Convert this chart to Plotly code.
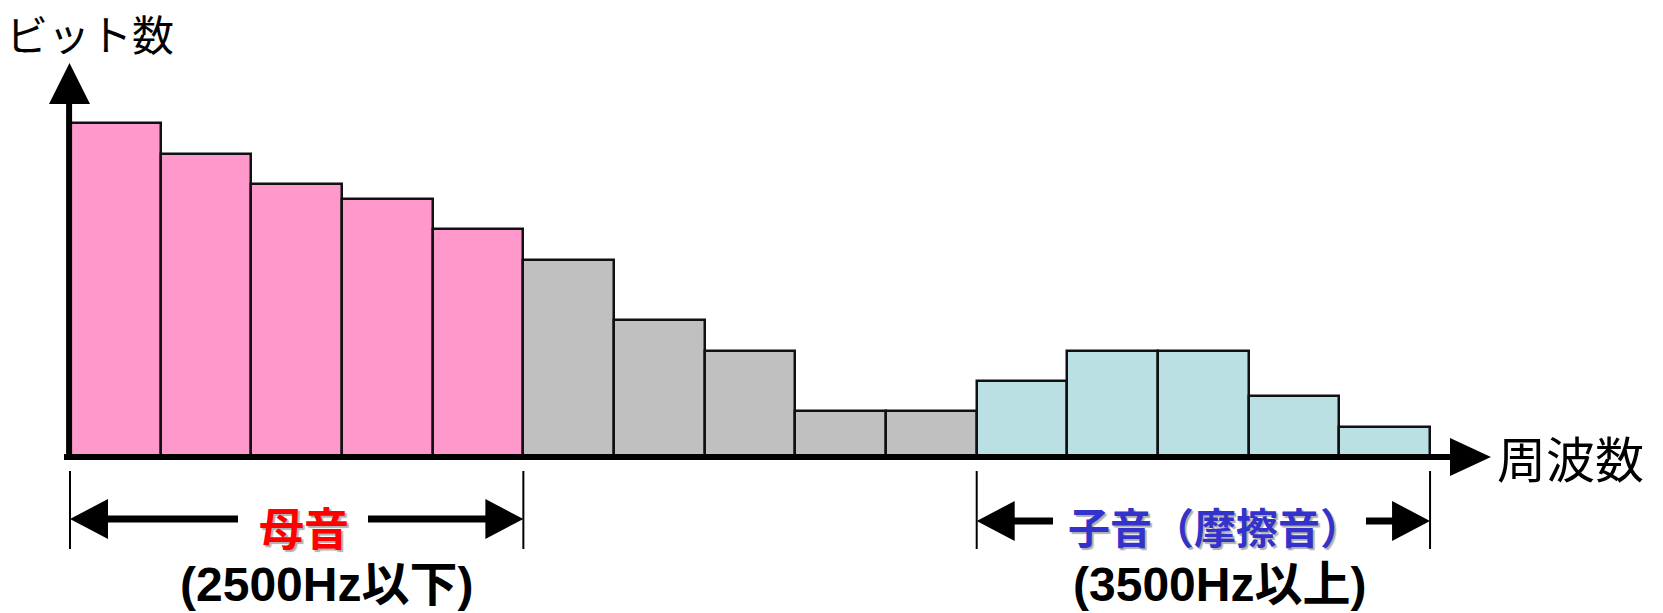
import plotly.graph_objects as go

# ---------------- data ----------------
bands = list(range(15))                      # frequency bands (left -> right)
bits = [22, 20, 18, 17, 15, 13, 9, 7, 3, 3, 5, 7, 7, 4, 2]   # bit allocation per band
vowel_idx = [0, 1, 2, 3, 4]                  # 母音 (<=2500Hz)
middle_idx = [5, 6, 7, 8, 9]
consonant_idx = [10, 11, 12, 13, 14]         # 子音 (>=3500Hz)

y_title = "ビット数"
x_title = "周波数"
vowel_label = "母音"
vowel_range = "(2500Hz以下)"
consonant_label = "子音（摩擦音）"
consonant_range = "(3500Hz以上)"

# ---------------- layout geometry ----------------
W, H = 1663, 613
PXX = 90.67          # px per band
BAR0_LEFT_PX = 70
PXY = 15.17          # px per bit
BASE_PX = 457

x0 = -0.5 - BAR0_LEFT_PX / PXX
x1 = x0 + W / PXX
y0 = -(H - BASE_PX) / PXY
y1 = BASE_PX / PXY


def X(px):
    return x0 + px / PXX


def Y(py):
    return (BASE_PX - py) / PXY


fig = go.Figure()
for idx, col in [(vowel_idx, "#FF99CC"), (middle_idx, "#C0C0C0"), (consonant_idx, "#BBE0E3")]:
    fig.add_trace(go.Bar(
        x=[bands[i] for i in idx], y=[bits[i] for i in idx], width=1,
        marker=dict(color=col, line=dict(color="#111111", width=2.5)),
        showlegend=False, hoverinfo="skip"))

shapes = []
# axes
left_edge = bands[0] - 0.5
right_edge = bands[-1] + 0.5
shapes.append(dict(type="line", x0=left_edge - 0.01, x1=left_edge - 0.01, y0=Y(460), y1=Y(100),
                   line=dict(color="black", width=6)))
shapes.append(dict(type="path",
                   path=f"M {X(49)},{Y(104)} L {X(90)},{Y(104)} L {X(69.5)},{Y(63)} Z",
                   fillcolor="black", line=dict(width=0)))
shapes.append(dict(type="line", x0=X(64), x1=X(1453), y0=0, y1=0,
                   line=dict(color="black", width=6)))
shapes.append(dict(type="path",
                   path=f"M {X(1450)},{Y(438)} L {X(1450)},{Y(476)} L {X(1491)},{Y(457)} Z",
                   fillcolor="black", line=dict(width=0)))


def span(a, b, gap_l, gap_r, ay):
    out = []
    for xe in (a, b):
        out.append(dict(type="line", x0=xe, x1=xe, y0=Y(471), y1=Y(549),
                        line=dict(color="black", width=2)))
    head = 38 / PXX
    hh = 20 / PXY
    out.append(dict(type="path",
                    path=f"M {a},{Y(ay)} L {a + head},{Y(ay) + hh} L {a + head},{Y(ay) - hh} Z",
                    fillcolor="black", line=dict(width=0)))
    out.append(dict(type="path",
                    path=f"M {b},{Y(ay)} L {b - head},{Y(ay) + hh} L {b - head},{Y(ay) - hh} Z",
                    fillcolor="black", line=dict(width=0)))
    out.append(dict(type="line", x0=a + head - 0.05, x1=X(gap_l), y0=Y(ay), y1=Y(ay),
                    line=dict(color="black", width=7)))
    out.append(dict(type="line", x0=X(gap_r), x1=b - head + 0.05, y0=Y(ay), y1=Y(ay),
                    line=dict(color="black", width=7)))
    return out


shapes += span(bands[vowel_idx[0]] - 0.5, bands[vowel_idx[-1]] + 0.5, 238, 368, 519)
shapes += span(bands[consonant_idx[0]] - 0.5, bands[consonant_idx[-1]] + 0.5, 1053, 1366, 521)

CJK = "Noto Sans CJK JP"
LAT = "Liberation Sans, Noto Sans CJK JP"
ann = [
    dict(text=y_title, x=X(90), y=Y(32), font=dict(family=CJK, size=42, color="black")),
    dict(text=x_title, x=X(1570), y=Y(456), font=dict(family=CJK, size=49, color="black")),
    dict(text=vowel_label, x=X(304), y=Y(526),
         font=dict(family=CJK, size=45, color="#FF0000", weight=700, shadow="2px 2px 1px #b0b0b0")),
    dict(text=consonant_label, x=X(1215), y=Y(525),
         font=dict(family=CJK, size=42, color="#3333CC", weight=700, shadow="2px 2px 1px #b0b0b0")),
    dict(text=vowel_range, x=X(326), y=Y(584), font=dict(family=LAT, size=48, color="black", weight=700)),
    dict(text=consonant_range, x=X(1219), y=Y(584), font=dict(family=LAT, size=48, color="black", weight=700)),
]
for a in ann:
    a.update(xref="x", yref="y", showarrow=False, xanchor="center", yanchor="middle")

fig.update_layout(
    width=W, height=H, margin=dict(l=0, r=0, t=0, b=0),
    paper_bgcolor="white", plot_bgcolor="white",
    bargap=0,
    xaxis=dict(range=[x0, x1], visible=False, fixedrange=True),
    yaxis=dict(range=[y0, y1], visible=False, fixedrange=True),
    shapes=shapes, annotations=ann,
)

fig.write_html("out.html", config={"displayModeBar": False},
               post_script="document.body.style.margin='0';document.body.style.overflow='hidden';")
